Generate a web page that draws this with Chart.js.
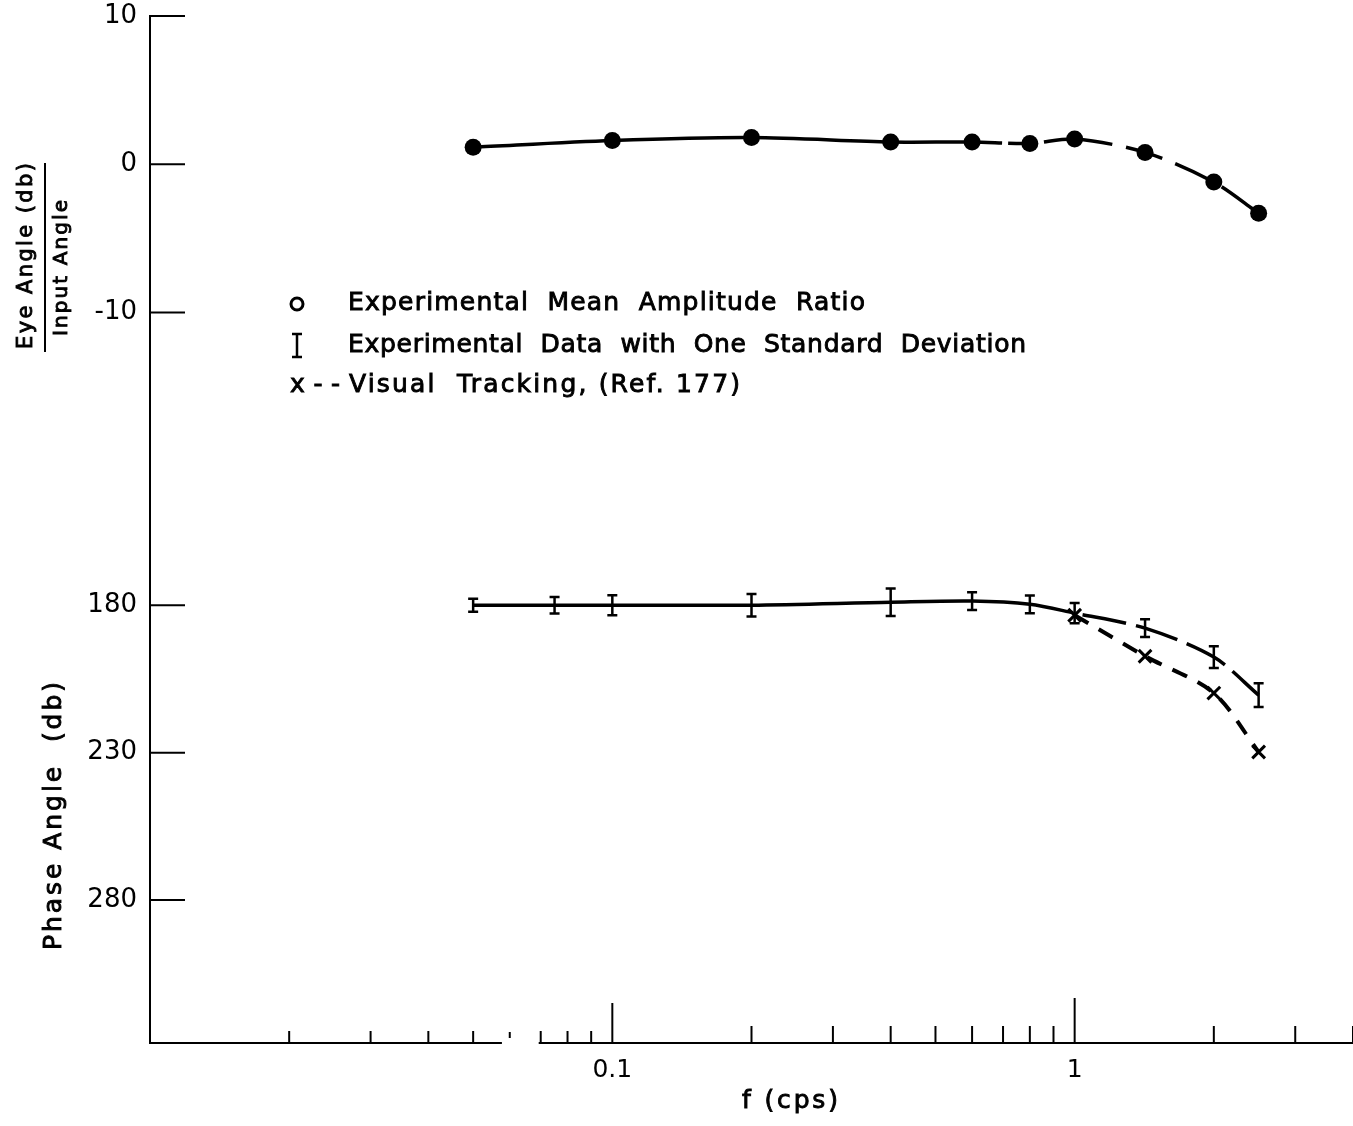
<!DOCTYPE html>
<html>
<head>
<title>Eye Angle / Input Angle frequency response</title>
<script src="https://cdn.jsdelivr.net/npm/chart.js"></script>
<style>
  body { margin: 0; background: #fff; }
  #wrap { width: 1353px; height: 1126px; }
</style>
</head>
<body>
<div id="wrap"><canvas id="chart" width="1353" height="1126"></canvas></div>
<script>
// amplitude ratio (db) vs frequency (cps)
const ampFreq = [0.05, 0.1, 0.2, 0.4, 0.6, 0.8, 1.0, 1.42, 2.0, 2.5];
const ampDb = [1.15, 1.6, 1.8, 1.5, 1.5, 1.4, 1.7, 0.8, -1.2, -3.3];

// phase angle, experimental mean and one standard deviation
const phaseFreq = [0.05, 0.075, 0.1, 0.2, 0.4, 0.6, 0.8, 1.0, 1.42, 2.0, 2.5];
const phaseDeg = [180, 180, 180, 180, 179, 178.6, 179.7, 182.7, 187.8, 197.6, 210.5];
const phaseSd = [2.2, 2.8, 3.4, 3.8, 4.7, 3, 3, 3.4, 3, 3.7, 4];

// visual tracking (Ref. 177)
const trackFreq = [1.0, 1.42, 2.0, 2.5];
const trackDeg = [183.4, 197.3, 209.8, 229.8];

// axis ticks
const ampTicks = [10, 0, -10];
const phaseTicks = [180, 230, 280];
const xLabelTicks = [0.1, 1];
const xMinorTicks = [0.02, 0.03, 0.04, 0.05, 0.07, 0.08, 0.09,
                     0.2, 0.3, 0.4, 0.5, 0.6, 0.7, 0.8, 0.9, 2, 3, 4];

// phase shares the vertical axis with the amplitude scale (lower half)
const PHASE_AT_180 = -29.74;
const PHASE_PER_DEG = 0.1989;
function phaseToY(p) { return PHASE_AT_180 - (p - 180) * PHASE_PER_DEG; }

const yTickValues = ampTicks.concat(phaseTicks.map(phaseToY));
const yTickLabels = ampTicks.concat(phaseTicks).map(String);

const FONT = '"DejaVu Sans", sans-serif';

// text stretched to a given width, slightly stroked to look like the lettering
function fitText(ctx, text, x, y, width) {
  ctx.letterSpacing = '0px';
  const w = ctx.measureText(text).width;
  const sp = (width - w) / Math.max(1, text.length - 1);
  ctx.letterSpacing = sp + 'px';
  ctx.lineWidth = 0.9;
  ctx.fillText(text, x, y);
  ctx.strokeText(text, x, y);
  ctx.letterSpacing = '0px';
}

const decorations = {
  id: 'decorations',
  afterDatasetsDraw(chart) {
    const ctx = chart.ctx;
    const xs = chart.scales.x, ys = chart.scales.y;
    const area = chart.chartArea;
    ctx.save();
    ctx.strokeStyle = '#000';
    ctx.fillStyle = '#000';
    ctx.lineCap = 'butt';

    // error bars on phase points
    const meta = chart.getDatasetMeta(1);
    ctx.lineWidth = 2.5;
    meta.data.forEach((pt, i) => {
      const top = ys.getPixelForValue(phaseToY(phaseDeg[i] - phaseSd[i]));
      const bot = ys.getPixelForValue(phaseToY(phaseDeg[i] + phaseSd[i]));
      ctx.beginPath();
      ctx.moveTo(pt.x, top); ctx.lineTo(pt.x, bot);
      ctx.moveTo(pt.x - 5, top); ctx.lineTo(pt.x + 5, top);
      ctx.moveTo(pt.x - 5, bot); ctx.lineTo(pt.x + 5, bot);
      ctx.stroke();
    });

    // x axis line with a break near 0.06
    ctx.lineWidth = 2;
    const yb = area.bottom;
    ctx.beginPath();
    ctx.moveTo(area.left, yb); ctx.lineTo(xs.getPixelForValue(0.0577), yb);
    ctx.moveTo(xs.getPixelForValue(0.0693), yb); ctx.lineTo(area.right, yb);
    ctx.stroke();
    const xb = xs.getPixelForValue(0.06);
    ctx.beginPath(); ctx.moveTo(xb, yb - 11); ctx.lineTo(xb, yb - 5); ctx.stroke();

    // x ticks, pointing inward
    xMinorTicks.forEach(v => {
      const px = xs.getPixelForValue(v);
      const len = v < 0.1 ? 12 : 17;
      ctx.beginPath(); ctx.moveTo(px, yb); ctx.lineTo(px, yb - len); ctx.stroke();
    });
    xLabelTicks.forEach(v => {
      const px = xs.getPixelForValue(v);
      const len = v < 1 ? 40 : 45;
      ctx.beginPath(); ctx.moveTo(px, yb); ctx.lineTo(px, yb - len); ctx.stroke();
    });

    // y ticks, pointing inward
    yTickValues.forEach(v => {
      const py = ys.getPixelForValue(v);
      ctx.beginPath(); ctx.moveTo(area.left, py); ctx.lineTo(area.left + 35, py); ctx.stroke();
    });

    // axis titles
    ctx.textAlign = 'left';
    ctx.textBaseline = 'middle';
    ctx.font = '25px ' + FONT;
    fitText(ctx, 'f (cps)', 742, 1101, 96);

    ctx.save();
    ctx.translate(27, 256);
    ctx.rotate(-Math.PI / 2);
    ctx.font = '21px ' + FONT;
    fitText(ctx, 'Eye Angle (db)', -93, 0, 186);
    ctx.restore();
    ctx.lineWidth = 2;
    ctx.beginPath(); ctx.moveTo(45, 163); ctx.lineTo(45, 352); ctx.stroke();
    ctx.save();
    ctx.translate(62, 268);
    ctx.rotate(-Math.PI / 2);
    ctx.font = '20px ' + FONT;
    fitText(ctx, 'Input Angle', -68, 0, 136);
    ctx.restore();
    ctx.save();
    ctx.translate(54, 816);
    ctx.rotate(-Math.PI / 2);
    ctx.font = '25px ' + FONT;
    fitText(ctx, 'Phase Angle  (db)', -134, 0, 268);
    ctx.restore();

    // legend
    ctx.font = '25px ' + FONT;
    ctx.textBaseline = 'middle';
    ctx.lineWidth = 3;
    ctx.beginPath(); ctx.arc(297, 304, 6, 0, Math.PI * 2); ctx.stroke();
    fitText(ctx, 'Experimental  Mean  Amplitude  Ratio', 348, 303, 517);
    ctx.lineWidth = 2.5;
    ctx.beginPath();
    ctx.moveTo(297, 334); ctx.lineTo(297, 357);
    ctx.moveTo(292, 334); ctx.lineTo(302, 334);
    ctx.moveTo(292, 357); ctx.lineTo(302, 357);
    ctx.stroke();
    fitText(ctx, 'Experimental  Data  with  One  Standard  Deviation', 348, 345, 678);
    fitText(ctx, 'x--', 290, 385, 50);
    fitText(ctx, 'Visual  Tracking, (Ref. 177)', 349, 385, 391);
    ctx.restore();
  }
};

new Chart(document.getElementById('chart'), {
  type: 'line',
  data: {
    datasets: [
      {
        label: 'Experimental Mean Amplitude Ratio',
        data: ampFreq.map((f, i) => ({ x: f, y: ampDb[i] })),
        borderColor: '#000',
        backgroundColor: '#000',
        borderWidth: 3.5,
        pointRadius: 8.5,
        pointBackgroundColor: '#000',
        pointBorderWidth: 0,
        tension: 0.3,
        segment: { borderDash: ctx => ctx.p0DataIndex >= 6 ? [38, 14] : (ctx.p0DataIndex >= 4 ? [30, 6] : undefined) }
      },
      {
        label: 'Experimental Data with One Standard Deviation',
        data: phaseFreq.map((f, i) => ({ x: f, y: phaseToY(phaseDeg[i]) })),
        borderColor: '#000',
        borderWidth: 3.5,
        pointRadius: 0,
        tension: 0.3,
        segment: { borderDash: ctx => ctx.p0DataIndex >= 6 ? [44, 10] : undefined }
      },
      {
        label: 'Visual Tracking, (Ref. 177)',
        data: trackFreq.map((f, i) => ({ x: f, y: phaseToY(trackDeg[i]) })),
        borderColor: '#000',
        borderWidth: 4,
        borderDash: [16, 12],
        pointStyle: 'crossRot',
        pointRadius: 9,
        pointBorderWidth: 3,
        pointBorderColor: '#000',
        tension: 0.3
      }
    ]
  },
  options: {
    responsive: false,
    animation: false,
    layout: { autoPadding: false, padding: { top: 16, left: 0, right: 0, bottom: 0 } },
    plugins: { legend: { display: false }, tooltip: { enabled: false } },
    scales: {
      x: {
        type: 'logarithmic',
        min: 0.01,
        max: 4,
        afterFit: s => { s.height = 83; s.paddingLeft = 0; s.paddingRight = 0; },
        afterBuildTicks: s => { s.ticks = xLabelTicks.map(v => ({ value: v })); },
        grid: { display: false, drawTicks: false },
        border: { display: false },
        ticks: {
          autoSkip: false,
          maxRotation: 0,
          padding: 12,
          color: '#000',
          font: { family: FONT, size: 25 },
          callback: v => String(v)
        }
      },
      y: {
        type: 'linear',
        min: -59.27,
        max: 10,
        afterFit: s => { s.width = 150; s.paddingTop = 0; s.paddingBottom = 0; },
        afterBuildTicks: s => { s.ticks = yTickValues.map(v => ({ value: v })); },
        grid: { display: false, drawTicks: false },
        border: { display: true, color: '#000', width: 2 },
        ticks: {
          autoSkip: false,
          padding: 13,
          color: '#000',
          font: { family: FONT, size: 26 },
          callback: (v, i) => yTickLabels[i]
        }
      }
    }
  },
  plugins: [decorations]
});
</script>
</body>
</html>
